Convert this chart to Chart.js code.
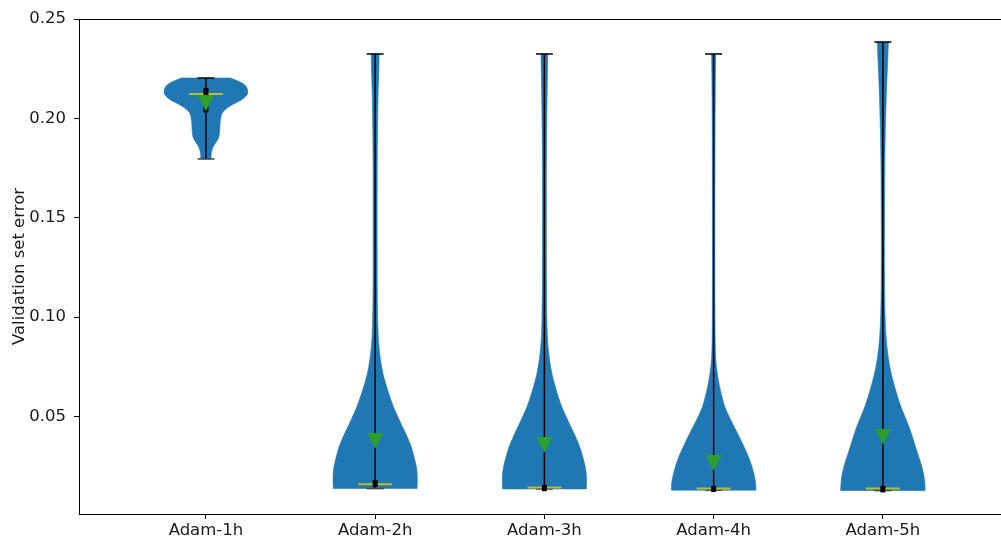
<!DOCTYPE html>
<html>
<head>
<meta charset="utf-8">
<script src="https://cdn.jsdelivr.net/npm/chart.js@4.4.0/dist/chart.umd.min.js"></script>
<style>
  body { margin: 0; background: #fff; }
</style>
</head>
<body>
<canvas id="violinChart" width="1001" height="538"></canvas>
<script>
const categories = ['Adam-1h', 'Adam-2h', 'Adam-3h', 'Adam-4h', 'Adam-5h'];
const minima  = [0.1796, 0.0138, 0.0136, 0.0130, 0.0128];
const maxima  = [0.2203, 0.2324, 0.2324, 0.2324, 0.2384];
const medians = [0.2123, 0.0160, 0.0143, 0.0138, 0.0138];
const means   = [0.2075, 0.0377, 0.0357, 0.0266, 0.0398];
const q1      = [0.2043, 0.0158, 0.0137, 0.0133, 0.0131];
const q3      = [0.2141, 0.0168, 0.0143, 0.0138, 0.0139];
const yTicks  = [0.05, 0.10, 0.15, 0.20, 0.25];

// density outline of each violin: error value and relative half-width (1 = widest)
const kdeY1 = [0.2203, 0.2183, 0.2163, 0.2133, 0.2113, 0.2092, 0.2072, 0.2052, 0.2027, 0.1992, 0.1957, 0.1916, 0.1891, 0.1866, 0.1841, 0.1816, 0.1796];
const kdeW1 = [0.58, 0.82, 0.96, 1.0, 0.96, 0.84, 0.65, 0.49, 0.37, 0.34, 0.33, 0.32, 0.28, 0.19, 0.14, 0.12, 0.12];

const kdeY2 = [0.2324, 0.2243, 0.2143, 0.1992, 0.1740, 0.1489, 0.1237, 0.1086, 0.0950, 0.0860, 0.0784, 0.0709, 0.0648, 0.0598, 0.0548, 0.0497, 0.0447, 0.0397, 0.0347, 0.0296, 0.0246, 0.0196, 0.0138];
const kdeW2 = [0.093, 0.089, 0.07, 0.058, 0.047, 0.047, 0.047, 0.051, 0.061, 0.084, 0.124, 0.187, 0.273, 0.35, 0.43, 0.54, 0.65, 0.76, 0.86, 0.92, 0.98, 1.0, 0.99];

const kdeY3 = [0.2324, 0.2243, 0.2143, 0.1992, 0.1740, 0.1489, 0.1237, 0.1086, 0.0950, 0.0860, 0.0784, 0.0709, 0.0648, 0.0598, 0.0548, 0.0497, 0.0447, 0.0397, 0.0347, 0.0296, 0.0246, 0.0196, 0.0136];
const kdeW3 = [0.08, 0.075, 0.065, 0.055, 0.045, 0.045, 0.047, 0.05, 0.06, 0.08, 0.12, 0.18, 0.26, 0.33, 0.41, 0.52, 0.63, 0.74, 0.84, 0.91, 0.97, 1.0, 0.99];

const kdeY4 = [0.2324, 0.2092, 0.1589, 0.1086, 0.0850, 0.0749, 0.0648, 0.0598, 0.0548, 0.0497, 0.0447, 0.0397, 0.0347, 0.0296, 0.0246, 0.0196, 0.0155, 0.0130];
const kdeW4 = [0.047, 0.035, 0.028, 0.028, 0.035, 0.058, 0.14, 0.2, 0.26, 0.37, 0.49, 0.61, 0.72, 0.83, 0.91, 0.97, 1.0, 1.0];

const kdeY5 = [0.2384, 0.2294, 0.2193, 0.2042, 0.1841, 0.1589, 0.1287, 0.1086, 0.0950, 0.0850, 0.0749, 0.0648, 0.0548, 0.0447, 0.0347, 0.0246, 0.0181, 0.0128];
const kdeW5 = [0.13, 0.117, 0.093, 0.07, 0.047, 0.04, 0.035, 0.042, 0.058, 0.093, 0.157, 0.28, 0.42, 0.63, 0.77, 0.93, 0.99, 1.0];

const outlines = [[kdeY1, kdeW1], [kdeY2, kdeW2], [kdeY3, kdeW3], [kdeY4, kdeW4], [kdeY5, kdeW5]];

const halfWidth = 0.25;   // widest point of a violin, in x units
const capHalf = 0.05;
const medianHalf = 0.1;

// down-pointing marker for the means
const meanMarker = document.createElement('canvas');
meanMarker.width = 16;
meanMarker.height = 16;
let mctx = meanMarker.getContext('2d');
mctx.fillStyle = '#2ca02c';
mctx.beginPath();
mctx.moveTo(0, 0);
mctx.lineTo(16, 0);
mctx.lineTo(8, 16);
mctx.closePath();
mctx.fill();

// smooth path through points using midpoint quadratic curves
function smoothThrough(ctx, pts, first) {
  if (first) ctx.moveTo(pts[0][0], pts[0][1]);
  else ctx.lineTo(pts[0][0], pts[0][1]);
  for (let k = 1; k < pts.length - 1; k++) {
    let mx = (pts[k][0] + pts[k + 1][0]) / 2;
    let my = (pts[k][1] + pts[k + 1][1]) / 2;
    ctx.quadraticCurveTo(pts[k][0], pts[k][1], mx, my);
  }
  let last = pts[pts.length - 1];
  ctx.lineTo(last[0], last[1]);
}

const violinPlugin = {
  id: 'violins',
  beforeDatasetsDraw(chart) {
    const { ctx, chartArea, scales: { x, y } } = chart;
    ctx.save();
    ctx.beginPath();
    ctx.rect(chartArea.left, chartArea.top, chartArea.right - chartArea.left, chartArea.bottom - chartArea.top);
    ctx.clip();

    outlines.forEach(([ys, ws], i) => {
      let pos = i + 1;
      let right = ys.map((v, j) => [x.getPixelForValue(pos + ws[j] * halfWidth), y.getPixelForValue(v)]);
      let left = ys.map((v, j) => [x.getPixelForValue(pos - ws[j] * halfWidth), y.getPixelForValue(v)]).reverse();
      ctx.beginPath();
      smoothThrough(ctx, right, true);
      smoothThrough(ctx, left, false);
      ctx.closePath();
      ctx.fillStyle = '#1f77b4';
      ctx.fill();
      ctx.strokeStyle = 'rgba(31,119,180,0.6)';
      ctx.lineWidth = 1;
      ctx.stroke();
    });

    categories.forEach((c, i) => {
      let pos = i + 1;
      let cx = x.getPixelForValue(pos);

      // min-max bar
      ctx.strokeStyle = '#000';
      ctx.lineWidth = 1.5;
      ctx.beginPath();
      ctx.moveTo(cx, y.getPixelForValue(minima[i]));
      ctx.lineTo(cx, y.getPixelForValue(maxima[i]));
      ctx.stroke();

      // caps
      ctx.beginPath();
      ctx.moveTo(x.getPixelForValue(pos - capHalf), y.getPixelForValue(maxima[i]));
      ctx.lineTo(x.getPixelForValue(pos + capHalf), y.getPixelForValue(maxima[i]));
      ctx.stroke();
      ctx.strokeStyle = '#444';
      ctx.beginPath();
      ctx.moveTo(x.getPixelForValue(pos - capHalf), y.getPixelForValue(minima[i]));
      ctx.lineTo(x.getPixelForValue(pos + capHalf), y.getPixelForValue(minima[i]));
      ctx.stroke();

      // median
      ctx.strokeStyle = '#bcbd22';
      ctx.lineWidth = 2;
      ctx.beginPath();
      ctx.moveTo(x.getPixelForValue(pos - medianHalf), y.getPixelForValue(medians[i]));
      ctx.lineTo(x.getPixelForValue(pos + medianHalf), y.getPixelForValue(medians[i]));
      ctx.stroke();

      // interquartile range
      ctx.strokeStyle = '#000';
      ctx.lineWidth = 5;
      ctx.lineCap = 'square';
      ctx.beginPath();
      ctx.moveTo(cx, y.getPixelForValue(q1[i]));
      ctx.lineTo(cx, y.getPixelForValue(q3[i]));
      ctx.stroke();
      ctx.lineCap = 'butt';
    });
    ctx.restore();
  },
  afterDraw(chart) {
    // top spine
    const { ctx, chartArea } = chart;
    ctx.save();
    ctx.strokeStyle = '#000';
    ctx.lineWidth = 1;
    ctx.beginPath();
    ctx.moveTo(chartArea.left, chartArea.top + 0.5);
    ctx.lineTo(chartArea.right, chartArea.top + 0.5);
    ctx.stroke();
    ctx.restore();
  }
};

const tickFont = { family: 'DejaVu Sans', size: 16.5 };

new Chart(document.getElementById('violinChart'), {
  type: 'scatter',
  data: {
    datasets: [{
      label: 'mean',
      data: means.map((m, i) => ({ x: i + 1, y: m })),
      pointStyle: meanMarker,
      pointRadius: 8,
      showLine: false
    }]
  },
  options: {
    responsive: false,
    animation: false,
    events: [],
    layout: { autoPadding: false, padding: { top: 19, right: 0, left: 0, bottom: 0 } },
    plugins: {
      legend: { display: false },
      tooltip: { enabled: false }
    },
    scales: {
      x: {
        type: 'linear',
        min: 0.25,
        max: 5.698,
        afterBuildTicks: (axis) => { axis.ticks = categories.map((c, i) => ({ value: i + 1 })); },
        afterFit: (scale) => { scale.height = 24; },
        ticks: {
          callback: (v) => categories[Math.round(v) - 1],
          font: tickFont,
          color: '#1a1a1a',
          padding: 2,
          maxRotation: 0,
          autoSkip: false
        },
        grid: { drawOnChartArea: false, tickLength: 5, color: '#000' },
        border: { color: '#000', width: 1 }
      },
      y: {
        min: 0.001,
        max: 0.25,
        afterBuildTicks: (axis) => { axis.ticks = yTicks.map(v => ({ value: v })); },
        afterFit: (scale) => { scale.width = 79; },
        ticks: {
          callback: (v) => v.toFixed(2),
          font: tickFont,
          color: '#1a1a1a',
          padding: 8
        },
        grid: { drawOnChartArea: false, tickLength: 5, color: '#000' },
        border: { color: '#000', width: 1 },
        title: {
          display: true,
          text: 'Validation set error',
          font: tickFont,
          color: '#1a1a1a',
          padding: { top: 10, bottom: 0 }
        }
      }
    }
  },
  plugins: [violinPlugin]
});
</script>
</body>
</html>
